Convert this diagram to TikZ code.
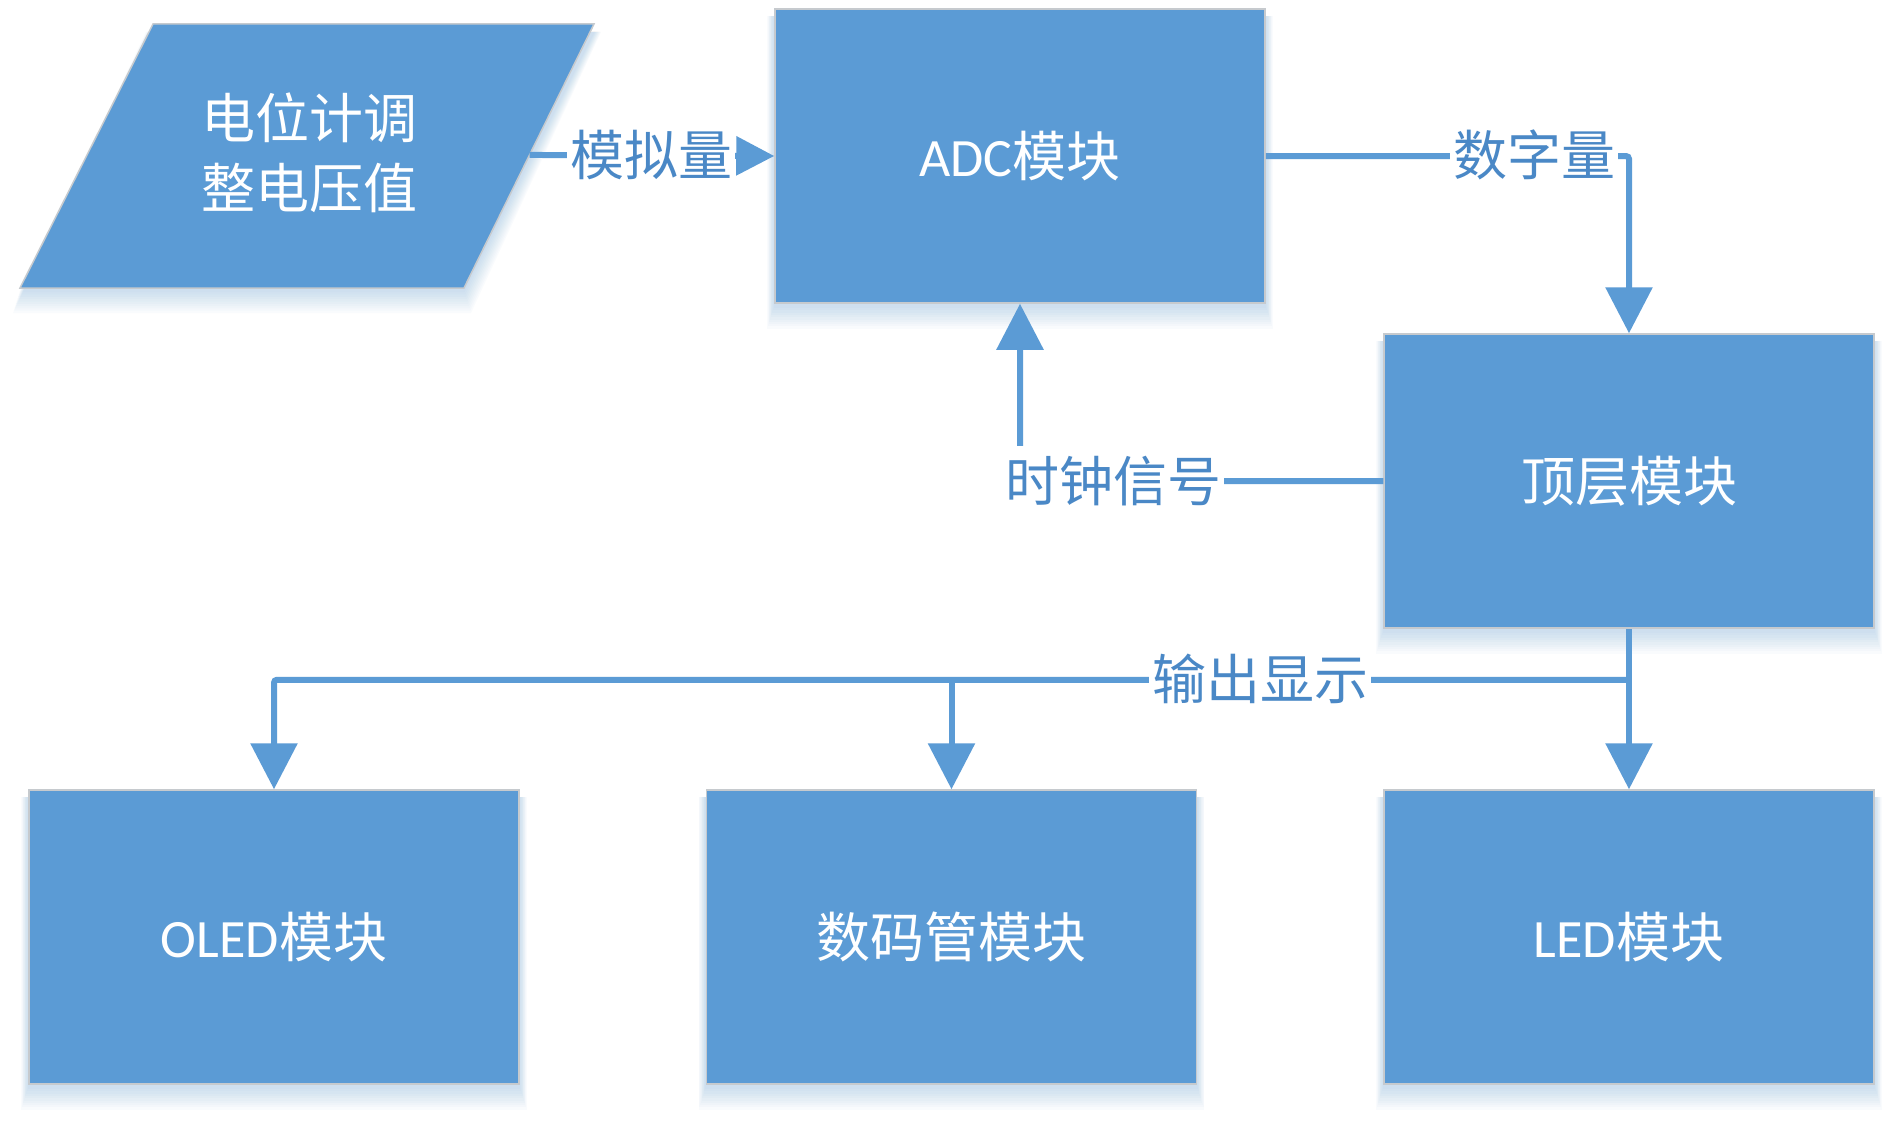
\documentclass[tikz,border=0pt]{standalone}
\usepackage{fontspec}
\setmainfont{Carlito}
\newfontfamily\cjk{Noto Sans CJK SC}
\usetikzlibrary{arrows.meta,backgrounds,calc}
\definecolor{boxblue}{HTML}{5B9BD5}
\definecolor{txtblue}{HTML}{4A88C6}
\definecolor{edgegray}{HTML}{C6CACE}
\newcommand\bigfont{\fontsize{54pt}{70pt}\selectfont\cjk}
\newcommand\boxshade[1]{%
  \foreach \k in {1,...,10}{%
    \fill[boxblue, opacity=0.03] ([xshift={-\k*0.7pt}, yshift=-8pt]#1.north west) rectangle ([xshift={\k*0.7pt}, yshift={-(2+2.3*\k)*1pt}]#1.south east);
  }}
\tikzset{
  mod/.style={rectangle, fill=boxblue, draw=edgegray, line width=1.5pt,
    minimum width=490pt, minimum height=294pt, inner sep=0pt, text=white, font=\bigfont},
  conn/.style={draw=boxblue, line width=6pt, rounded corners=3pt},
  arr/.style={-{Triangle[length=46pt,width=46pt]}},
  arrsmall/.style={-{Triangle[length=38pt,width=38pt]}},
  lbl/.style={fill=white, text=txtblue, inner xsep=3pt, inner ysep=4pt, font=\bigfont},
}
\begin{document}
\begin{tikzpicture}[x=1pt,y=-1pt]
\useasboundingbox (0,0) rectangle (1900,1121);
\begin{scope}[on background layer]
  \fill[white] (0,0) rectangle (1900,1121);
\end{scope}

% input parallelogram
\coordinate (pa) at (153,24);
\coordinate (pb) at (594,24);
\coordinate (pc) at (464,288);
\coordinate (pd) at (20,288);
\foreach \k in {1,...,10}{%
  \fill[boxblue, opacity=0.03] ({153-\k*0.7},32) -- ({594+\k*0.7},32) -- ({464+\k*0.7},{290+2.3*\k}) -- ({20-\k*0.7},{290+2.3*\k}) -- cycle;
}
\filldraw[fill=boxblue, draw=edgegray, line width=1.5pt] (pa) -- (pb) -- (pc) -- (pd) -- cycle;
\node[text=white, font=\bigfont, align=center] (pin) at (309,153) {电位计调\\整电压值};
\coordinate (pout) at ($(pb)!0.496!(pc)$);

% modules
\node[mod] (adc) at (1020,156) {{\rmfamily ADC}模块};
\node[mod] (top) at (1629,481) {顶层模块};
\node[mod] (oled) at (274,937) {{\rmfamily OLED}模块};
\node[mod] (smg) at (951.5,937) {数码管模块};
\node[mod] (led) at (1629,937) {{\rmfamily LED}模块};

\begin{scope}[on background layer]
  \boxshade{adc}
  \boxshade{top}
  \boxshade{oled}
  \boxshade{smg}
  \boxshade{led}
\end{scope}

% connectors
\draw[conn, arrsmall] (pout) -- (adc.west);
\node[lbl] (l1) at (651,155) {模拟量};

\draw[conn, arr] (adc.east) -| (top.north);
\node[lbl] (l2) at (1534,155) {数字量};

\draw[conn, arr] (top.west) -| (adc.south);
\node[lbl, inner ysep=10pt] (l3) at (1113,481) {时钟信号};

\coordinate (bus) at ([yshift=-51pt]top.south);
\draw[conn, arr] (top.south) -- (led.north);
\draw[conn, arr] (bus) -| (oled.north);
\draw[conn, arr] (bus -| smg.north) -- (smg.north);
\node[lbl] (l4) at (1260,679) {输出显示};
\end{tikzpicture}
\end{document}
